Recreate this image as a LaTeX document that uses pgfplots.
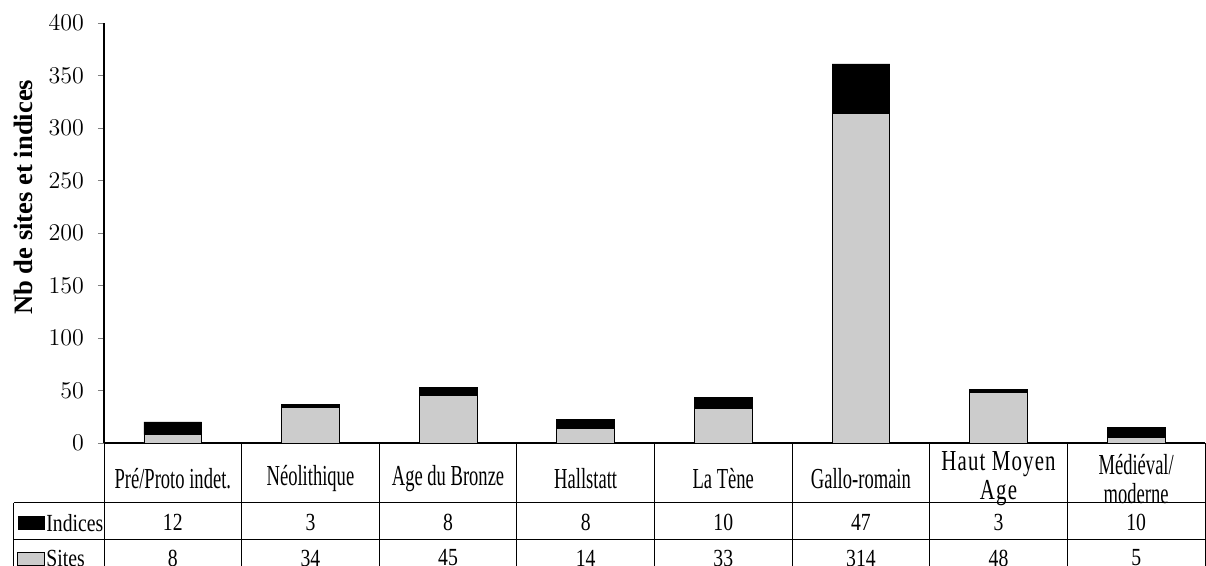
\documentclass[border=0pt]{standalone}
\usepackage{pgfplots}
\pgfplotsset{compat=1.18}
\usepackage{fontspec}
\setmainfont{Liberation Serif}
\newfontfamily\numfont{Liberation Serif}[FakeStretch=0.8]
\newfontfamily\catfont{Liberation Serif}[FakeStretch=0.64]
\newfontfamily\widefont{Liberation Serif}[FakeStretch=0.72,LetterSpace=4]
\definecolor{sitegray}{HTML}{CCCCCC}

\begin{document}
\begin{tikzpicture}
  % page: 1206x566 px at 0.5pt per px
  \useasboundingbox (-52pt,-61.5pt) rectangle (551pt,221.5pt);
  \begin{axis}[
      at={(0,0)}, anchor=south west,
      scale only axis,
      width=550.5pt, height=210pt,
      ybar stacked,
      bar width=0.42,
      xmin=-0.5, xmax=7.5,
      ymin=0, ymax=400,
      ytick distance=50,
      axis lines=left,
      axis line style={-, line width=0.6pt},
      tick align=outside,
      major tick length=3pt,
      xtick=data,
      xtick style={draw=none},
      xticklabels={Pré/Proto indet., Néolithique, Age du Bronze, Hallstatt, La Tène, Gallo-romain, {\widefont Haut Moyen\\\widefont Age}, {Médiéval/\\moderne}},
      xticklabel style={anchor=center, yshift=-15pt, align=center,
        font=\catfont\fontsize{14.5}{14.5}\selectfont},
      yticklabel style={font=\numfont\fontsize{11.6}{12}\selectfont, xshift=-3.5pt},
      ylabel={\textbf{Nb de sites et indices}},
      ylabel style={at={(axis description cs:-0.0736,0.585)}, anchor=center,
        font=\fontsize{13.3}{15}\selectfont},
      clip=false,
    ]
    \addplot[fill=sitegray, draw=black, line width=0.4pt] coordinates {
      (0,8) (1,34) (2,45) (3,14) (4,33) (5,314) (6,48) (7,5)
    };
    \addplot[fill=black, draw=black, line width=0.4pt] coordinates {
      (0,12) (1,3) (2,8) (3,8) (4,10) (5,47) (6,3) (7,10)
    };
  \end{axis}
  % data table below the axis
  \begin{scope}[line width=0.5pt]
    \foreach \i in {0,...,8}
      \draw ({68.8125pt*\i},0) -- ({68.8125pt*\i},-62pt);
    \draw (-45pt,-30pt) -- (550.5pt,-30pt);
    \draw (-45pt,-48.5pt) -- (550.5pt,-48.5pt);
    \draw (-45pt,-30pt) -- (-45pt,-62pt);
    \fill[black] (-43pt,-36.5pt) rectangle (-29.5pt,-43.5pt);
    \draw[fill=sitegray] (-43pt,-55pt) rectangle (-29.5pt,-61.5pt);
  \end{scope}
  \node[anchor=west, inner sep=0pt, font=\numfont\fontsize{12.3}{12}\selectfont] at (-29pt,-39.8pt) {Indices};
  \node[anchor=west, inner sep=0pt, font=\numfont\fontsize{12.3}{12}\selectfont] at (-29pt,-57.5pt) {Sites};
  \foreach \v [count=\i from 0] in {12,3,8,8,10,47,3,10}
    \node[font=\numfont\fontsize{12.3}{12}\selectfont] at ({34.41pt+68.8125pt*\i},-39.5pt) {\v};
  \foreach \v [count=\i from 0] in {8,34,45,14,33,314,48,5}
    \node[font=\numfont\fontsize{12.3}{12}\selectfont] at ({34.41pt+68.8125pt*\i},-57.5pt) {\v};
\end{tikzpicture}
\end{document}
